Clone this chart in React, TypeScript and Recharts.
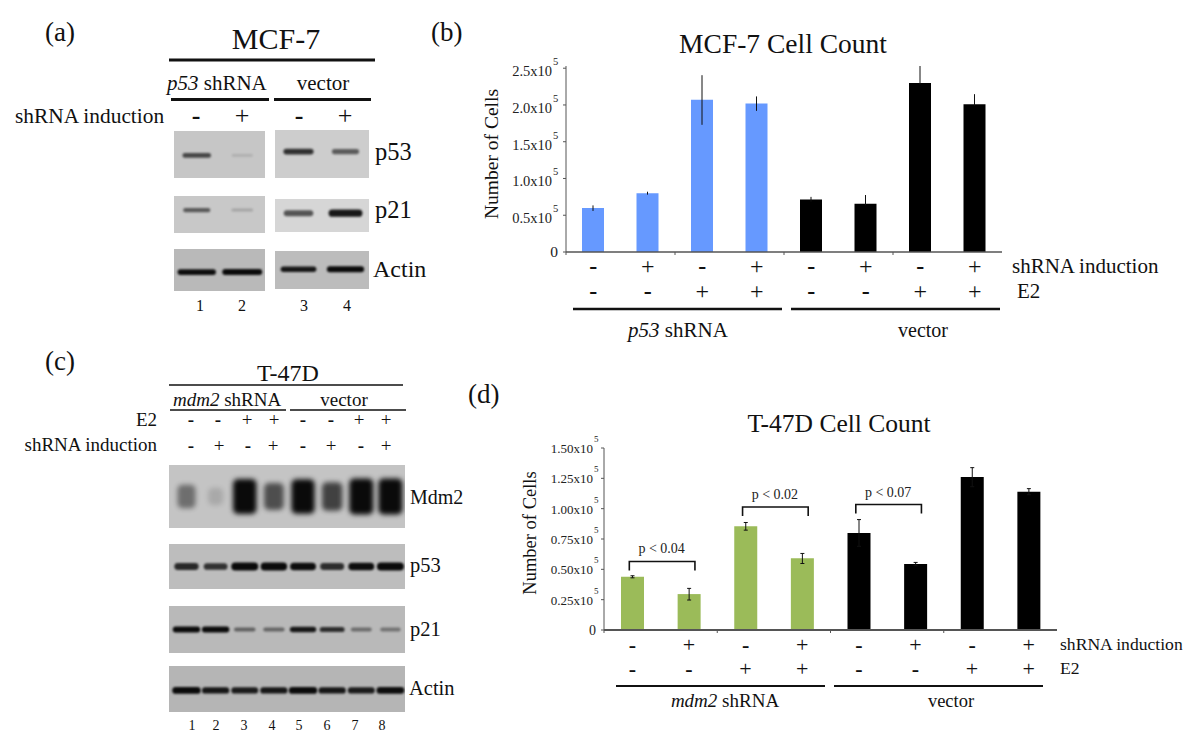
import React from "react";
import { BarChart, Bar, Cell, ErrorBar, XAxis, YAxis, ReferenceLine, ScatterChart, Scatter } from "recharts";

const FONT = "'Liberation Serif', 'Times New Roman', serif";

// cell counts
const laneIds = ["l1", "l2", "l3", "l4", "l5", "l6", "l7", "l8"];
const shrnaSigns = ["-", "+", "-", "+", "-", "+", "-", "+"];
const e2Signs = ["-", "-", "+", "+", "-", "-", "+", "+"];

const mcfValues = [60000, 80000, 207000, 202000, 71500, 65500, 230000, 201000];
const mcfErrLow = [4200, 2000, 34000, 10000, 3000, 2000, 2000, 2000];
const mcfErrHigh = [3400, 2000, 33500, 9600, 3500, 12000, 23000, 13700];
const mcfTicks = [0, 50000, 100000, 150000, 200000, 250000];
const mcfTickLabels = ["0", "0.5x10", "1.0x10", "1.5x10", "2.0x10", "2.5x10"];

const t47Values = [43900, 29600, 85500, 59200, 80000, 54300, 126100, 114000];
const t47ErrLow = [900, 4900, 3200, 4400, 11000, 1300, 8000, 2500];
const t47ErrHigh = [800, 4700, 3100, 3900, 11000, 1400, 7700, 2500];
const t47Ticks = [0, 25000, 50000, 75000, 100000, 125000, 150000];
const t47TickLabels = ["0", "0.25x10", "0.50x10", "0.75x10", "1.00x10", "1.25x10", "1.50x10"];

const bracketFrom = ["l1", "l3", "l5"];
const bracketTo = ["l2", "l4", "l6"];
const bracketLevel = [56500, 101400, 103400];
const bracketLabels = ["p < 0.04", "p < 0.02", "p < 0.07"];

// band strength per lane of the blots, 0 to 1
const mcfP53Shrna = [0.6, 0.04];
const mcfP53Vector = [0.72, 0.5];
const mcfP21Shrna = [0.5, 0.1];
const mcfP21Vector = [0.55, 0.85];
const mcfActinShrna = [0.9, 1];
const mcfActinVector = [0.85, 0.95];
const t47Mdm2 = [0.38, 0.06, 0.95, 0.55, 0.92, 0.62, 1, 1];
const t47P53 = [0.75, 0.7, 1, 0.95, 0.9, 0.72, 0.9, 1];
const t47P21 = [0.95, 0.95, 0.42, 0.4, 0.85, 0.72, 0.36, 0.32];
const t47Actin = [0.95, 0.85, 0.82, 0.85, 0.95, 0.85, 0.82, 0.9];

const toRows = (values: number[], low: number[], high: number[]) =>
  values.map((value, i) => ({ lane: laneIds[i], value, err: [low[i], high[i]] }));

const YTick = ({ x, y, payload, labels, ticks, size, labelDy, supDy, gap }: any) => {
  const label = labels[ticks.indexOf(payload.value)];
  if (label === "0") {
    return (
      <text x={x - 3} y={y + 5} textAnchor="end" fontFamily={FONT} fontSize={size + 1} fill="#222">
        0
      </text>
    );
  }
  return (
    <g fontFamily={FONT} fill="#222">
      <text x={x - gap} y={y + labelDy} textAnchor="end" fontSize={size}>
        {label}
      </text>
      <text x={x - gap + 1} y={y + supDy} textAnchor="start" fontSize={size - 4}>
        5
      </text>
    </g>
  );
};

const XTick = ({ x, y, payload, rowA, rowB, band, size }: any) => {
  const i = payload.index;
  return (
    <g fontFamily={FONT} fill="#111" textAnchor="middle">
      {i % 2 === 0 && <line x1={x - band / 2} x2={x - band / 2} y1={y} y2={y + 3} stroke="#555" />}
      <text x={x} y={y + rowA} fontSize={size} fontWeight={shrnaSigns[i] === "-" ? "bold" : "normal"}>
        {shrnaSigns[i]}
      </text>
      <text x={x} y={y + rowB} fontSize={size} fontWeight={e2Signs[i] === "-" ? "bold" : "normal"}>
        {e2Signs[i]}
      </text>
    </g>
  );
};

const CountChart = ({ left, top, width, height, plot, rows, ticks, labels, fill, domainMax, cap, tick, band, rowA, rowB, signSize, barSize, axisW, children }: any) => (
  <div style={{ position: "absolute", left, top }}>
    <BarChart width={width} height={height} data={rows} barSize={barSize} margin={{ top: plot.top, right: plot.right, bottom: 0, left: 0 }}>
      <XAxis
        dataKey="lane"
        interval={0}
        height={plot.bottom}
        tickLine={false}
        tickSize={0}
        tickMargin={0}
        axisLine={{ stroke: "#555", strokeWidth: axisW }}
        tick={<XTick rowA={rowA} rowB={rowB} band={band} size={signSize} />}
      />
      <YAxis
        width={plot.left}
        domain={[0, domainMax]}
        ticks={ticks}
        interval={0}
        tickSize={3}
        tickLine={{ stroke: "#555" }}
        axisLine={{ stroke: "#555" }}
        tick={<YTick labels={labels} ticks={ticks} {...tick} />}
      />
      <Bar dataKey="value" isAnimationActive={false}>
        {rows.map((r: any, i: number) => (
          <Cell key={r.lane} fill={i < 4 ? fill : "#000"} />
        ))}
        <ErrorBar dataKey="err" width={cap} stroke="#111" strokeWidth={1} isAnimationActive={false} />
      </Bar>
      {children}
    </BarChart>
  </div>
);

const BracketShape = ({ x1, x2, y1, label }: any) => (
  <g>
    <path d={`M${x1 - 3} ${y1 + 9} V${y1} H${x2 + 6} V${y1 + 9}`} fill="none" stroke="#111" strokeWidth={1.6} />
    <text x={(x1 + x2) / 2 + 1} y={y1 - 8} textAnchor="middle" fontFamily={FONT} fontSize={14} fill="#222">
      {label}
    </text>
  </g>
);

const BandShape = ({ cx, cy, payload, bandW, bandH, blur }: any) => {
  const v = payload.v;
  const w = bandW * (0.6 + 0.4 * v);
  const h = bandH * (0.45 + 0.55 * v);
  return (
    <rect
      x={cx - w / 2}
      y={cy - h / 2}
      width={w}
      height={h}
      rx={Math.min(h / 2, 5)}
      fill="#0a0a0a"
      opacity={Math.min(1, v + 0.08)}
      style={{ filter: `blur(${blur}px)` }}
    />
  );
};

const Blot = ({ x, y, w, h, gray, values, bandW, bandH, bandAt = 0.5, domain, blur = 1 }: any) => {
  const data = values.map((v: number, i: number) => ({ lane: i, pos: bandAt, v }));
  return (
    <div style={{ position: "absolute", left: x, top: y, width: w, height: h, background: gray, overflow: "hidden" }}>
      <ScatterChart width={w} height={h} margin={{ top: 0, right: 0, bottom: 0, left: 0 }}>
        <XAxis type="number" dataKey="lane" domain={domain || [-0.5, values.length - 0.5]} hide />
        <YAxis type="number" dataKey="pos" domain={[0, 1]} reversed hide />
        <Scatter data={data} isAnimationActive={false} shape={<BandShape bandW={bandW} bandH={bandH} blur={blur} />} />
      </ScatterChart>
    </div>
  );
};

const T = ({ x, y, size, anchor = "start", children, ...rest }: any) => (
  <text x={x} y={y} fontSize={size} textAnchor={anchor} fill="#111" {...rest}>
    {children}
  </text>
);

const Sign = ({ s, x, y, size }: any) => (
  <T x={x} y={y} size={size} anchor="middle" fontWeight={s === "-" ? "bold" : "normal"}>
    {s}
  </T>
);

const Rule = ({ x1, x2, y, w = 3 }: any) => <line x1={x1} x2={x2} y1={y} y2={y} stroke="#111" strokeWidth={w} />;

const Overlay = () => (
  <svg width={1200} height={753} style={{ position: "absolute", left: 0, top: 0 }} fontFamily={FONT}>
    {/* panel letters */}
    <T x={45} y={41} size={27}>(a)</T>
    <T x={431} y={41} size={27}>(b)</T>
    <T x={45} y={370} size={27}>(c)</T>
    <T x={468} y={403} size={27}>(d)</T>

    {/* (a) header */}
    <T x={276} y={49} size={30} anchor="middle">MCF-7</T>
    <Rule x1={169} x2={375} y={60} />
    <T x={167} y={90} size={21}><tspan fontStyle="italic">p53</tspan> shRNA</T>
    <T x={323} y={90} size={21} anchor="middle">vector</T>
    <Rule x1={171} x2={269} y={99.5} />
    <Rule x1={274} x2={371} y={99.5} />
    <T x={15} y={123} size={21.4}>shRNA induction</T>
    {["-", "+", "-", "+"].map((s, i) => (
      <Sign key={i} s={s} x={[196, 242, 299, 345][i]} y={124} size={26} />
    ))}
    <T x={375} y={160} size={24.5}>p53</T>
    <T x={375} y={218} size={24.5}>p21</T>
    <T x={373} y={277} size={24}>Actin</T>
    {["1", "2", "3", "4"].map((s, i) => (
      <T key={i} x={[200, 242, 304, 347][i]} y={311} size={16} anchor="middle">{s}</T>
    ))}

    {/* (b) labels */}
    <T x={783} y={53} size={27.5} anchor="middle">MCF-7 Cell Count</T>
    <T x={0} y={0} size={19.5} anchor="middle" transform="translate(498 154) rotate(-90)">Number of Cells</T>
    <T x={1012} y={273} size={21}>shRNA induction</T>
    <T x={1017} y={298} size={21}>E2</T>
    <Rule x1={573} x2={782} y={309} w={2.4} />
    <Rule x1={791} x2={1000} y={309} w={2.4} />
    <T x={678} y={337} size={21} anchor="middle"><tspan fontStyle="italic">p53</tspan> shRNA</T>
    <T x={923} y={337} size={20} anchor="middle">vector</T>

    {/* (c) header */}
    <T x={288} y={381} size={24} anchor="middle">T-47D</T>
    <Rule x1={169} x2={403} y={385} w={1.5} />
    <T x={173} y={406} size={19}><tspan fontStyle="italic">mdm2</tspan> shRNA</T>
    <T x={344} y={406} size={19} anchor="middle">vector</T>
    <Rule x1={170} x2={286} y={410} w={1.5} />
    <Rule x1={290} x2={406} y={410} w={1.5} />
    <T x={157} y={426} size={19} anchor="end">E2</T>
    <T x={157} y={451} size={19} anchor="end">shRNA induction</T>
    {e2Signs.map((s, i) => (
      <Sign key={i} s={s} x={[191, 218, 247, 274, 303, 331, 359, 386][i]} y={426} size={19} />
    ))}
    {shrnaSigns.map((s, i) => (
      <Sign key={i} s={s} x={[191, 219, 248, 273, 303, 331, 361, 386][i]} y={452} size={19} />
    ))}
    <T x={410} y={504} size={20}>Mdm2</T>
    <T x={410} y={572} size={20.5}>p53</T>
    <T x={410} y={636} size={20.5}>p21</T>
    <T x={409} y={695} size={20.5}>Actin</T>
    {["1", "2", "3", "4", "5", "6", "7", "8"].map((s, i) => (
      <T key={i} x={[192, 216, 244, 272, 299, 327, 355, 382][i]} y={730} size={14} anchor="middle">{s}</T>
    ))}

    {/* (d) labels */}
    <T x={839} y={432} size={25.5} anchor="middle">T-47D Cell Count</T>
    <T x={0} y={0} size={18.5} anchor="middle" transform="translate(536 533) rotate(-90)">Number of Cells</T>
    <T x={1060} y={650} size={17.6}>shRNA induction</T>
    <T x={1060} y={674} size={17.6}>E2</T>
    <Rule x1={616} x2={825} y={686} w={2.2} />
    <Rule x1={834} x2={1043} y={686} w={2.2} />
    <T x={725} y={707} size={19} anchor="middle"><tspan fontStyle="italic">mdm2</tspan> shRNA</T>
    <T x={951} y={707} size={18.5} anchor="middle">vector</T>
  </svg>
);

export default function App() {
  const lanes8: [number, number] = [-0.6, 7.5];
  return (
    <div style={{ position: "absolute", left: 0, top: 0, width: 1200, height: 753, background: "#fff", overflow: "hidden" }}>
      <Overlay />

      <Blot x={174} y={131} w={91} h={47} gray="#c6c6c6" values={mcfP53Shrna} bandW={34} bandH={6} bandAt={0.52} />
      <Blot x={275} y={130} w={94} h={48} gray="#cdcdcd" values={mcfP53Vector} bandW={34} bandH={7} bandAt={0.45} />
      <Blot x={174} y={196} w={91} h={37} gray="#c8c8c8" values={mcfP21Shrna} bandW={34} bandH={6} bandAt={0.38} />
      <Blot x={275} y={199} w={94} h={33} gray="#d6d6d6" values={mcfP21Vector} bandW={36} bandH={8} bandAt={0.43} />
      <Blot x={174} y={249} w={91} h={42} gray="#b9b9b9" values={mcfActinShrna} bandW={40} bandH={6} bandAt={0.55} />
      <Blot x={275} y={251} w={94} h={38} gray="#bcbcbc" values={mcfActinVector} bandW={38} bandH={6} bandAt={0.48} />

      <Blot x={169} y={465} w={236} h={63} gray="#c4c4c4" values={t47Mdm2} bandW={24} bandH={36} bandAt={0.5} domain={lanes8} blur={2.5} />
      <Blot x={169} y={544} w={236} h={45} gray="#bdbdbd" values={t47P53} bandW={27} bandH={8} bandAt={0.5} domain={lanes8} />
      <Blot x={169} y={606} w={236} h={47} gray="#b9b9b9" values={t47P21} bandW={28} bandH={6} bandAt={0.5} domain={lanes8} />
      <Blot x={169} y={666} w={236} h={46} gray="#b5b5b5" values={t47Actin} bandW={29} bandH={7} bandAt={0.53} domain={lanes8} />

      <CountChart
        left={470}
        top={20}
        width={700}
        height={330}
        plot={{ top: 46, right: 168, bottom: 98, left: 96 }}
        rows={toRows(mcfValues, mcfErrLow, mcfErrHigh)}
        ticks={mcfTicks}
        labels={mcfTickLabels}
        fill="#6699ff"
        domainMax={250000}
        cap={0}
        tick={{ size: 14.5, labelDy: 8, supDy: -3, gap: 9 }}
        band={54.5}
        rowA={22}
        rowB={47}
        signSize={24}
        barSize={22}
        axisW={1.4}
      />

      <CountChart
        left={500}
        top={400}
        width={700}
        height={330}
        plot={{ top: 48, right: 143, bottom: 100, left: 104 }}
        rows={toRows(t47Values, t47ErrLow, t47ErrHigh)}
        ticks={t47Ticks}
        labels={t47TickLabels}
        fill="#9bbb59"
        domainMax={150000}
        cap={2}
        tick={{ size: 13, labelDy: 5, supDy: -6, gap: 6 }}
        band={56.6}
        rowA={22}
        rowB={46}
        signSize={22}
        barSize={23}
        axisW={2}
      >
        {bracketLabels.map((label, i) => (
          <ReferenceLine
            key={label}
            segment={[
              { x: bracketFrom[i], y: bracketLevel[i] },
              { x: bracketTo[i], y: bracketLevel[i] },
            ]}
            shape={(p: any) => <BracketShape {...p} label={label} />}
          />
        ))}
      </CountChart>
    </div>
  );
}
